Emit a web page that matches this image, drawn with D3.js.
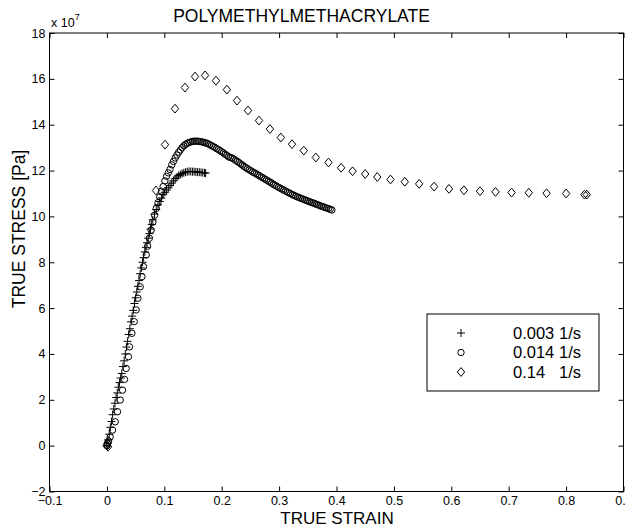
<!DOCTYPE html>
<html>
<head>
<meta charset="utf-8">
<script src="https://cdn.jsdelivr.net/npm/d3@7"></script>
<style>
  html, body { margin: 0; padding: 0; background: #fff; }
  svg { display: block; font-family: "Liberation Sans", Arial, sans-serif; }
</style>
</head>
<body>
<div id="chart"></div>
<script>
/* ============================================
   PMMA true stress / true strain (stress in 1e7 Pa)
   ============================================ */

// 0.003 1/s  (+)
const rate003 = [
  [0, 0], [0.002, 0.25], [0.004, 0.5], [0.006, 0.8], [0.008, 1.05], [0.010, 1.35],
  [0.012, 1.6], [0.014, 1.85], [0.016, 2.1], [0.018, 2.3], [0.020, 2.55], [0.022, 2.75],
  [0.024, 2.95], [0.026, 3.15], [0.028, 3.45], [0.030, 3.7], [0.032, 4.0], [0.034, 4.3],
  [0.036, 4.55], [0.038, 4.85], [0.040, 5.1], [0.042, 5.4], [0.044, 5.65], [0.046, 5.9],
  [0.048, 6.2], [0.050, 6.45], [0.052, 6.7], [0.054, 6.95], [0.056, 7.2], [0.058, 7.5],
  [0.060, 7.75], [0.062, 8.0], [0.064, 8.2], [0.066, 8.45], [0.068, 8.65], [0.070, 8.85],
  [0.072, 9.05], [0.074, 9.25], [0.076, 9.45], [0.078, 9.65], [0.080, 9.85], [0.083, 10.1],
  [0.086, 10.3], [0.089, 10.5], [0.092, 10.65], [0.095, 10.8], [0.098, 10.95], [0.101, 11.05],
  [0.104, 11.15], [0.107, 11.25], [0.110, 11.35], [0.113, 11.45], [0.116, 11.55], [0.119, 11.65],
  [0.122, 11.72], [0.125, 11.78], [0.128, 11.83], [0.131, 11.87], [0.134, 11.9], [0.137, 11.93],
  [0.140, 11.95], [0.143, 11.96], [0.146, 11.96], [0.149, 11.95], [0.152, 11.95], [0.155, 11.94],
  [0.158, 11.93], [0.161, 11.93], [0.164, 11.92], [0.167, 11.91], [0.170, 11.9], [0.172, 11.89]
];

// 0.014 1/s  (o)
const rate014 = [
  [0, 0], [0.001, 0.1], [0.003, 0.2], [0.0057, 0.38], [0.0098, 0.68], [0.0145, 1.04],
  [0.0185, 1.48], [0.0232, 1.99], [0.0272, 2.42], [0.0307, 2.89], [0.0336, 3.37], [0.0376, 3.88],
  [0.0394, 4.31], [0.0436, 4.9], [0.0476, 5.41], [0.051, 5.92], [0.054, 6.43], [0.058, 6.93],
  [0.061, 7.37], [0.0638, 7.81], [0.0685, 8.32], [0.071, 8.7], [0.074, 9.05], [0.077, 9.4],
  [0.080, 9.75], [0.083, 10.05], [0.086, 10.35], [0.089, 10.6], [0.092, 10.85], [0.095, 11.1],
  [0.098, 11.3], [0.101, 11.55], [0.104, 11.75], [0.107, 11.9], [0.110, 12.05], [0.113, 12.25],
  [0.116, 12.4], [0.119, 12.55], [0.122, 12.68], [0.125, 12.8], [0.128, 12.9], [0.131, 13.0],
  [0.134, 13.08], [0.137, 13.14], [0.140, 13.19], [0.143, 13.22], [0.146, 13.25], [0.149, 13.27],
  [0.152, 13.28], [0.155, 13.28], [0.158, 13.28], [0.161, 13.27], [0.164, 13.26], [0.167, 13.24],
  [0.170, 13.22], [0.173, 13.2], [0.176, 13.17], [0.179, 13.13], [0.182, 13.09], [0.185, 13.05],
  [0.188, 13.01], [0.191, 12.96], [0.194, 12.92], [0.197, 12.87], [0.200, 12.82], [0.203, 12.77],
  [0.206, 12.71], [0.209, 12.66], [0.212, 12.6], [0.215, 12.57], [0.218, 12.55], [0.221, 12.5],
  [0.224, 12.45], [0.227, 12.4], [0.230, 12.35], [0.233, 12.29], [0.236, 12.24], [0.239, 12.18],
  [0.242, 12.13], [0.245, 12.08], [0.248, 12.03], [0.251, 11.99], [0.254, 11.94], [0.257, 11.9],
  [0.260, 11.86], [0.263, 11.81], [0.266, 11.77], [0.269, 11.72], [0.272, 11.68], [0.275, 11.63],
  [0.278, 11.59], [0.281, 11.54], [0.284, 11.5], [0.287, 11.45], [0.290, 11.4], [0.293, 11.36],
  [0.296, 11.31], [0.299, 11.27], [0.302, 11.23], [0.305, 11.19], [0.308, 11.15], [0.311, 11.11],
  [0.314, 11.07], [0.317, 11.03], [0.320, 10.99], [0.323, 10.95], [0.326, 10.92], [0.329, 10.88],
  [0.332, 10.85], [0.335, 10.82], [0.338, 10.79], [0.341, 10.76], [0.344, 10.73], [0.347, 10.7],
  [0.350, 10.67], [0.353, 10.64], [0.356, 10.61], [0.359, 10.59], [0.362, 10.56], [0.365, 10.53],
  [0.368, 10.5], [0.371, 10.47], [0.374, 10.44], [0.377, 10.42], [0.380, 10.39], [0.383, 10.36],
  [0.386, 10.34], [0.389, 10.31], [0.392, 10.28]
];

// 0.14 1/s  (diamond)
const rate14 = [
  [0, 0], [0.001, 0.1], [0.002, -0.05], [0.0855, 11.13], [0.1012, 13.13], [0.1186, 14.7],
  [0.136, 15.62], [0.1535, 16.1], [0.171, 16.15], [0.19, 15.92], [0.209, 15.53], [0.2267, 15.05],
  [0.2458, 14.62], [0.265, 14.18], [0.284, 13.81], [0.303, 13.44], [0.3225, 13.15], [0.343, 12.87],
  [0.364, 12.57], [0.386, 12.35], [0.408, 12.12], [0.428, 11.97], [0.45, 11.85], [0.471, 11.72],
  [0.494, 11.61], [0.519, 11.51], [0.544, 11.42], [0.57, 11.3], [0.596, 11.2], [0.622, 11.14],
  [0.65, 11.1], [0.677, 11.07], [0.705, 11.04], [0.735, 11.03], [0.766, 11.01], [0.8, 11.0],
  [0.832, 10.95], [0.836, 10.95]
];

const xTicks = [-0.1, 0, 0.1, 0.2, 0.3, 0.4, 0.5, 0.6, 0.7, 0.8, 0.9];
const yTicks = [-2, 0, 2, 4, 6, 8, 10, 12, 14, 16, 18];
const legendRates = ['0.003', '0.014', '0.14'];
const legendUnit = '1/s';

const W = 626, H = 527;
const box = { left: 49.5, right: 623.5, top: 33, bottom: 491.5 };

const x = d3.scaleLinear().domain([-0.1, 0.9]).range([box.left, box.right]);
const y = d3.scaleLinear().domain([-2, 18]).range([box.bottom, box.top]);

// marker shapes
const markers = {
  plus: 'M-4,0H4M0,-4V4',
  circle: 'M3.2,0A3.2,3.2 0 1,1 -3.2,0A3.2,3.2 0 1,1 3.2,0Z',
  diamond: 'M0,-4.4L3.7,0L0,4.4L-3.7,0Z'
};

const series = [
  { data: rate003, shape: 'plus' },
  { data: rate014, shape: 'circle' },
  { data: rate14, shape: 'diamond' }
];

const svg = d3.select('#chart').append('svg')
  .attr('width', W)
  .attr('height', H)
  .attr('viewBox', `0 0 ${W} ${H}`);

svg.append('rect').attr('width', W).attr('height', H).attr('fill', '#fff');

// axes, ticks inward on all four sides
const fmtX = d => (d < 0 ? '\u2212' : '') + (d === 0 ? '0' : Math.abs(d).toFixed(1));
const fmtY = d => (d < 0 ? '\u2212' : '') + Math.abs(d);

const bottomAxis = d3.axisBottom(x).tickValues(xTicks).tickSize(-5).tickPadding(5).tickFormat(fmtX);
const topAxis = d3.axisTop(x).tickValues(xTicks).tickSize(-5).tickFormat('');
const leftAxis = d3.axisLeft(y).tickValues(yTicks).tickSize(-5).tickPadding(4).tickFormat(fmtY);
const rightAxis = d3.axisRight(y).tickValues(yTicks).tickSize(-5).tickFormat('');

function styleAxis(g) {
  g.select('.domain').remove();
  g.selectAll('line').attr('stroke', '#000').attr('stroke-width', 1);
  g.selectAll('text').attr('fill', '#000').attr('font-size', 12.5)
    .attr('font-family', '"Liberation Sans", Arial, sans-serif');
}

svg.append('g').attr('transform', `translate(0,${box.bottom})`).call(bottomAxis).call(styleAxis);
svg.append('g').attr('transform', `translate(0,${box.top})`).call(topAxis).call(styleAxis);
svg.append('g').attr('transform', `translate(${box.left},0)`).call(leftAxis).call(styleAxis);
svg.append('g').attr('transform', `translate(${box.right},0)`).call(rightAxis).call(styleAxis);

svg.append('rect')
  .attr('x', box.left).attr('y', box.top)
  .attr('width', box.right - box.left).attr('height', box.bottom - box.top)
  .attr('fill', 'none').attr('stroke', '#000').attr('stroke-width', 1);

// data markers
series.forEach(s => {
  svg.append('g')
    .selectAll('path')
    .data(s.data)
    .join('path')
    .attr('transform', d => `translate(${x(d[0])},${y(d[1])})`)
    .attr('d', markers[s.shape])
    .attr('fill', 'none')
    .attr('stroke', '#000')
    .attr('stroke-width', 1);
});

// exponent label
const expo = svg.append('text')
  .attr('x', 51).attr('y', 27)
  .attr('font-size', 12.5).attr('fill', '#000');
expo.append('tspan').text('x 10');
expo.append('tspan').attr('dy', -7).attr('font-size', 9).text('7');

// title and axis labels
svg.append('text')
  .attr('x', 301.5).attr('y', 21.5)
  .attr('text-anchor', 'middle')
  .attr('font-size', 17.5)
  .text('POLYMETHYLMETHACRYLATE');

svg.append('text')
  .attr('x', 337).attr('y', 524)
  .attr('text-anchor', 'middle')
  .attr('font-size', 17)
  .text('TRUE STRAIN');

svg.append('text')
  .attr('transform', 'translate(25,229) rotate(-90)')
  .attr('text-anchor', 'middle')
  .attr('font-size', 17.5)
  .text('TRUE STRESS [Pa]');

// legend
const legend = svg.append('g');
legend.append('rect')
  .attr('x', 427).attr('y', 314)
  .attr('width', 172).attr('height', 77)
  .attr('fill', '#fff').attr('stroke', '#000').attr('stroke-width', 1);

const rowY = d3.scalePoint().domain(legendRates).range([333, 372]);

legendRates.forEach((r, i) => {
  legend.append('path')
    .attr('transform', `translate(461,${rowY(r)})`)
    .attr('d', markers[series[i].shape])
    .attr('fill', 'none').attr('stroke', '#000').attr('stroke-width', 1);
  legend.append('text')
    .attr('x', 513).attr('y', rowY(r)).attr('dy', '0.36em')
    .attr('font-size', 16.5)
    .text(r);
  legend.append('text')
    .attr('x', 559).attr('y', rowY(r)).attr('dy', '0.36em')
    .attr('font-size', 16.5)
    .text(legendUnit);
});
</script>
</body>
</html>
